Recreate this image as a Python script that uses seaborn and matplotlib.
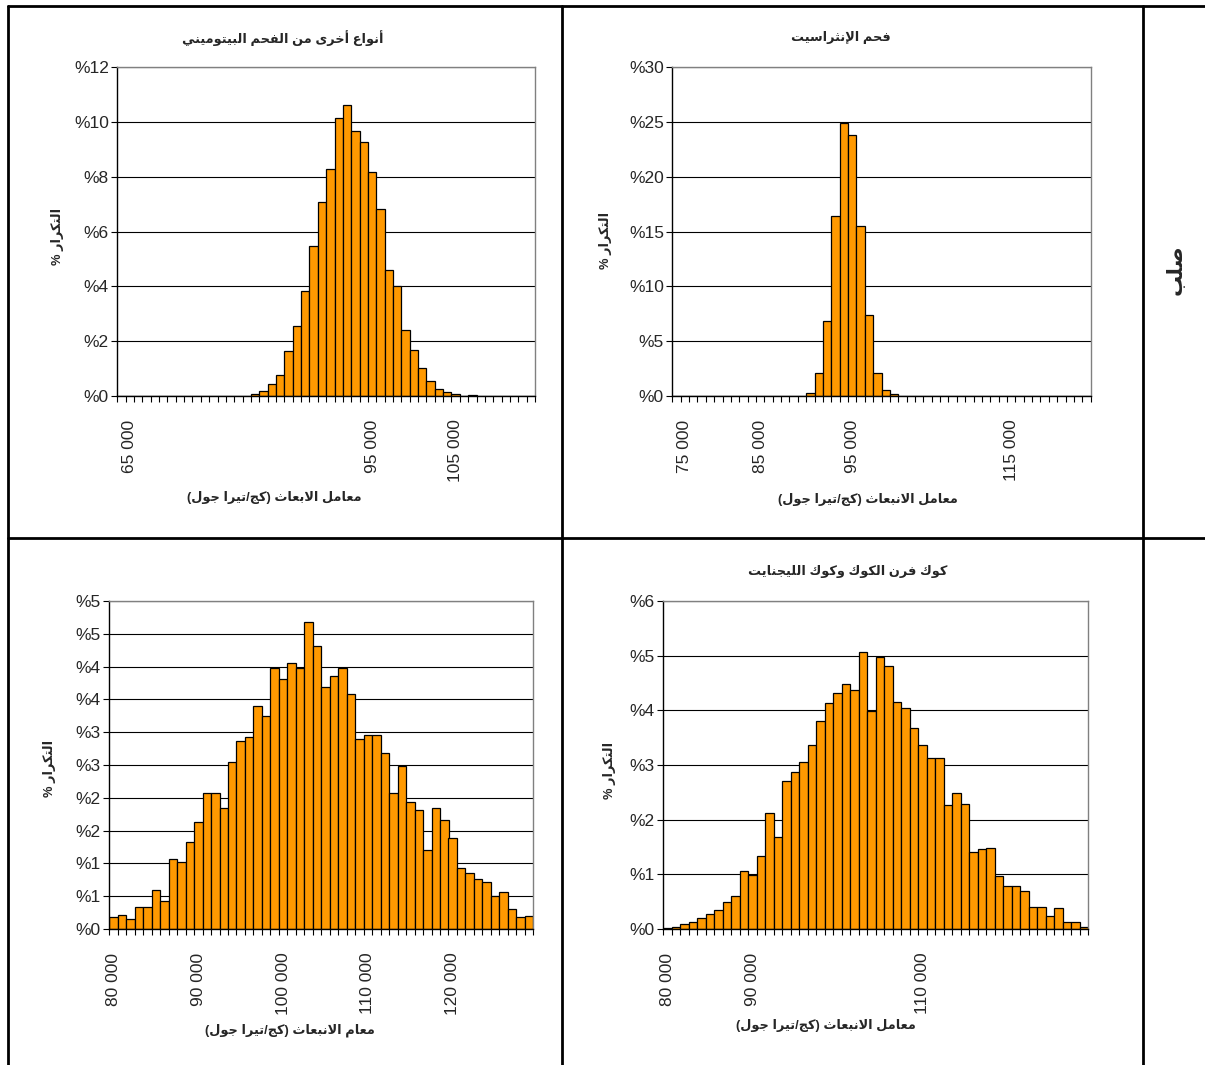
import numpy as np
import pandas as pd
import seaborn as sns
import matplotlib.pyplot as plt
from matplotlib.lines import Line2D

# ---- data: frequency (%) per emission-factor bin, 50 bins per panel
bins = list(range(50))

bitum_pct = [0, 0, 0, 0, 0, 0, 0, 0, 0, 0,
             0, 0, 0, 0, 0, 0, 0.07, 0.20, 0.45, 0.76,
             1.64, 2.56, 3.82, 5.46, 7.07, 8.28, 10.13, 10.62, 9.66, 9.28,
             8.17, 6.83, 4.60, 4.00, 2.40, 1.67, 1.03, 0.55, 0.24, 0.16,
             0.07, 0, 0.04, 0, 0, 0, 0, 0, 0, 0]

anthr_pct = [0, 0, 0, 0, 0, 0, 0, 0, 0, 0,
             0, 0, 0, 0, 0, 0, 0.30, 2.07, 6.81, 16.40,
             24.90, 23.80, 15.50, 7.36, 2.07, 0.52, 0.15, 0, 0, 0,
             0, 0, 0, 0, 0, 0, 0, 0, 0, 0,
             0, 0, 0, 0, 0, 0, 0, 0, 0, 0]

other_pct = [0.18, 0.21, 0.16, 0.33, 0.33, 0.60, 0.43, 1.06, 1.02, 1.32,
             1.63, 2.07, 2.08, 1.84, 2.54, 2.86, 2.93, 3.40, 3.24, 3.98,
             3.81, 4.06, 3.98, 4.68, 4.32, 3.69, 3.85, 3.98, 3.58, 2.90,
             2.96, 2.96, 2.68, 2.07, 2.49, 1.93, 1.82, 1.20, 1.84, 1.66,
             1.38, 0.93, 0.86, 0.76, 0.72, 0.50, 0.57, 0.31, 0.18, 0.20]

coke_pct = [0.02, 0.04, 0.10, 0.13, 0.20, 0.27, 0.35, 0.49, 0.60, 1.07,
            0.99, 1.34, 2.13, 1.68, 2.70, 2.87, 3.06, 3.36, 3.81, 4.14,
            4.32, 4.48, 4.38, 5.07, 3.99, 4.98, 4.81, 4.16, 4.05, 3.68,
            3.36, 3.13, 3.13, 2.26, 2.49, 2.29, 1.40, 1.46, 1.49, 0.97,
            0.79, 0.79, 0.69, 0.40, 0.40, 0.23, 0.38, 0.13, 0.13, 0.04]

# x tick labels (category positions)
bitum_xpos = [1, 30, 40]
bitum_xlab = ['65 000', '95 000', '105 000']
anthr_xpos = [1, 10, 21, 40]
anthr_xlab = ['75 000', '85 000', '95 000', '115 000']
other_xpos = [0, 10, 20, 30, 40]
other_xlab = ['80 000', '90 000', '100 000', '110 000', '120 000']
coke_xpos = [0, 10, 30]
coke_xlab = ['80 000', '90 000', '110 000']

# y ticks
bitum_yticks = [0, 2, 4, 6, 8, 10, 12]
bitum_ylab = ['%0', '%2', '%4', '%6', '%8', '%10', '%12']
anthr_yticks = [0, 5, 10, 15, 20, 25, 30]
anthr_ylab = ['%0', '%5', '%10', '%15', '%20', '%25', '%30']
other_yticks = [0, 0.5, 1, 1.5, 2, 2.5, 3, 3.5, 4, 4.5, 5]
other_ylab = ['%0', '%1', '%1', '%2', '%2', '%3', '%3', '%4', '%4', '%5', '%5']
coke_yticks = [0, 1, 2, 3, 4, 5, 6]
coke_ylab = ['%0', '%1', '%2', '%3', '%4', '%5', '%6']

title_bitum = 'أنواع أخرى من الفحم البيتوميني'
title_anthr = 'فحم الإنثراسيت'
title_coke = 'كوك فرن الكوك وكوك الليجنايت'
xlab_bitum = 'معامل الابعاث (كج/تيرا جول)'
xlab_anthr = 'معامل الانبعاث (كج/تيرا جول)'
xlab_other = 'معام الانبعاث (كج/تيرا جول)'
xlab_coke = 'معامل الانبعاث (كج/تيرا جول)'
ylab_all = 'التكرار %'
side_lab = 'صلب'

# ---- minimal arabic shaping (matplotlib has no bidi / joining)
AR_FORMS = {
    'ا': (0xFE8D, 0xFE8E), 'أ': (0xFE83, 0xFE84), 'إ': (0xFE87, 0xFE88),
    'ر': (0xFEAD, 0xFEAE), 'و': (0xFEED, 0xFEEE), 'ى': (0xFEEF, 0xFEF0),
    'ب': (0xFE8F, 0xFE90, 0xFE91, 0xFE92), 'ت': (0xFE95, 0xFE96, 0xFE97, 0xFE98),
    'ث': (0xFE99, 0xFE9A, 0xFE9B, 0xFE9C), 'ج': (0xFE9D, 0xFE9E, 0xFE9F, 0xFEA0),
    'ح': (0xFEA1, 0xFEA2, 0xFEA3, 0xFEA4), 'خ': (0xFEA5, 0xFEA6, 0xFEA7, 0xFEA8),
    'س': (0xFEB1, 0xFEB2, 0xFEB3, 0xFEB4), 'ص': (0xFEB9, 0xFEBA, 0xFEBB, 0xFEBC),
    'ع': (0xFEC9, 0xFECA, 0xFECB, 0xFECC), 'ف': (0xFED1, 0xFED2, 0xFED3, 0xFED4),
    'ك': (0xFED9, 0xFEDA, 0xFEDB, 0xFEDC), 'ل': (0xFEDD, 0xFEDE, 0xFEDF, 0xFEE0),
    'م': (0xFEE1, 0xFEE2, 0xFEE3, 0xFEE4), 'ن': (0xFEE5, 0xFEE6, 0xFEE7, 0xFEE8),
    'ي': (0xFEF1, 0xFEF2, 0xFEF3, 0xFEF4),
}
LAM_ALEF = {'ا': (0xFEFB, 0xFEFC), 'أ': (0xFEF7, 0xFEF8), 'إ': (0xFEF9, 0xFEFA)}


def ar(text):
    out = []
    i = 0
    n = len(text)
    while i < n:
        c = text[i]
        if c not in AR_FORMS:
            out.append(c)
            i += 1
            continue
        prev = text[i - 1] if i > 0 else ''
        joined_prev = prev in AR_FORMS and len(AR_FORMS[prev]) == 4
        if c == 'ل' and i + 1 < n and text[i + 1] in LAM_ALEF:
            out.append(chr(LAM_ALEF[text[i + 1]][int(joined_prev)]))
            i += 2
            continue
        nxt = text[i + 1] if i + 1 < n else ''
        forms = AR_FORMS[c]
        joins_next = len(forms) == 4 and nxt in AR_FORMS
        if joined_prev and joins_next:
            g = forms[3]
        elif joins_next:
            g = forms[2]
        elif joined_prev:
            g = forms[1]
        else:
            g = forms[0]
        out.append(chr(g))
        i += 1
    mirror = {'(': ')', ')': '('}
    return ''.join(mirror.get(ch, ch) for ch in reversed(out))


sns.set_theme(style='white')
plt.rcParams['font.family'] = ['Liberation Sans', 'DejaVu Sans']

W, H = 1205, 1065
fig = plt.figure(figsize=(W / 100, H / 100), dpi=100)


def px_ax(x0, y0, x1, y1):
    return fig.add_axes([x0 / W, 1 - y1 / H, (x1 - x0) / W, (y1 - y0) / H])


def ftext(x, y, s, **kw):
    fig.text(x / W, 1 - y / H, s, ha='center', va='center', **kw)


def panel(ax, vals, yticks, ylabs, xpos, xlabs):
    df = pd.DataFrame({'bin': bins, 'pct': vals})
    sns.barplot(data=df, x='bin', y='pct', ax=ax, color='#FF9900',
                saturation=1, width=1.0, edgecolor='black', linewidth=0.9)
    ax.set_xlim(-0.5, len(bins) - 0.5)
    ax.set_ylim(yticks[0], yticks[-1])
    ax.set_yticks(yticks)
    ax.set_yticklabels(ylabs, fontsize=12.5)
    ax.set_xticks(xpos)
    ax.set_xticklabels(xlabs, rotation=90, fontsize=12.5)
    ax.set_xticks(np.arange(-0.5, len(bins), 1.0), minor=True)
    ax.tick_params(axis='x', which='major', length=0, pad=17)
    ax.tick_params(axis='x', which='minor', length=4, width=0.8, color='black', bottom=True)
    ax.tick_params(axis='y', which='major', length=4, width=0.8, color='black', left=True, pad=2)
    ax.set_xlabel('')
    ax.set_ylabel('')
    ax.yaxis.grid(True, color='black', linewidth=0.8)
    ax.xaxis.grid(False)
    ax.set_axisbelow(True)
    for side in ['left', 'bottom']:
        ax.spines[side].set_color('black')
        ax.spines[side].set_linewidth(1.0)
    for side in ['top', 'right']:
        ax.spines[side].set_color('#808080')
        ax.spines[side].set_linewidth(1.0)


ax1 = px_ax(117.3, 67, 535, 396)
panel(ax1, bitum_pct, bitum_yticks, bitum_ylab, bitum_xpos, bitum_xlab)
ax2 = px_ax(672.3, 67, 1090.7, 396)
panel(ax2, anthr_pct, anthr_yticks, anthr_ylab, anthr_xpos, anthr_xlab)
ax3 = px_ax(109.3, 601, 533.3, 929)
panel(ax3, other_pct, other_yticks, other_ylab, other_xpos, other_xlab)
ax4 = px_ax(663.3, 601, 1088.3, 929)
panel(ax4, coke_pct, coke_yticks, coke_ylab, coke_xpos, coke_xlab)

# titles, axis labels
bold = dict(fontweight='bold', fontsize=9.3)
ftext(283, 38, ar(title_bitum), **bold)
ftext(841, 38, ar(title_anthr), **bold)
ftext(848, 572, ar(title_coke), **bold)
ftext(274, 497, ar(xlab_bitum), **bold)
ftext(868, 499, ar(xlab_anthr), **bold)
ftext(290, 1030, ar(xlab_other), **bold)
ftext(826, 1026, ar(xlab_coke), **bold)
ftext(58, 236, ar(ylab_all), rotation=90, **bold)
ftext(606, 240, ar(ylab_all), rotation=90, **bold)
ftext(50, 768, ar(ylab_all), rotation=90, **bold)
ftext(610, 770, ar(ylab_all), rotation=90, **bold)
ftext(1176, 270, ar(side_lab), rotation=90, fontweight='bold', fontsize=15)

# table frame
def hline(y, x0, x1):
    fig.add_artist(Line2D([x0 / W, x1 / W], [1 - y / H, 1 - y / H], color='black', lw=2))


def vline(x, y0, y1):
    fig.add_artist(Line2D([x / W, x / W], [1 - y0 / H, 1 - y1 / H], color='black', lw=2))


hline(6, 8, W)
hline(538, 8, W)
vline(8, 6, H)
vline(562, 6, H)
vline(1143, 6, H)

fig.savefig('out.png', dpi=100)
